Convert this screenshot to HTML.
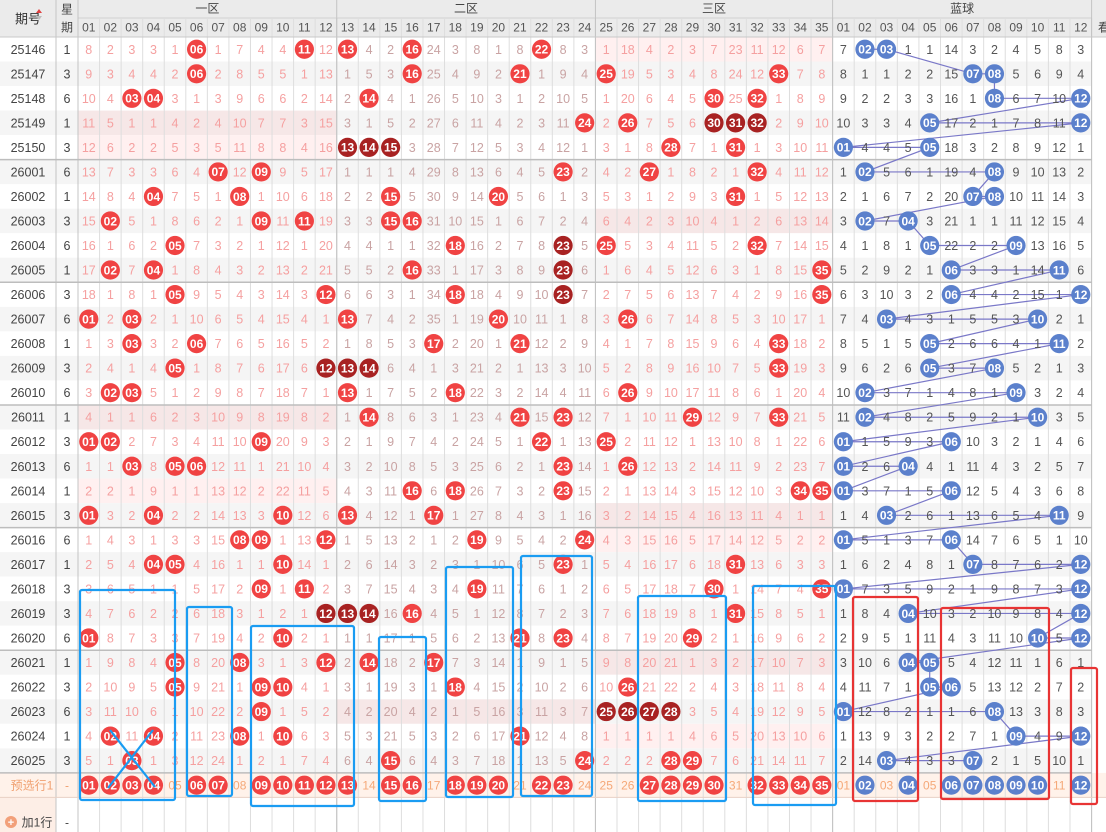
<!DOCTYPE html>
<html><head><meta charset="utf-8">
<style>
html,body{margin:0;padding:0;background:#fff;}
#wrap{position:relative;width:1106px;height:832px;overflow:hidden;font-family:"Liberation Sans","Noto Sans CJK SC",sans-serif;}
svg text{font-family:"Liberation Sans","Noto Sans CJK SC",sans-serif;}
</style></head>
<body>
<div id="wrap">
<svg id="chart" width="1106" height="832" xmlns="http://www.w3.org/2000/svg"></svg>
</div>
<script>
const periods=["25146","25147","25148","25149","25150","26001","26002","26003","26004","26005","26006","26007","26008","26009","26010","26011","26012","26013","26014","26015","26016","26017","26018","26019","26020","26021","26022","26023","26024","26025"];
const weekdays=[1,3,6,1,3,6,1,3,6,1,3,6,1,3,6,1,3,6,1,3,6,1,3,3,6,1,3,6,1,3];
const redHits=[[6,11,13,16,22],[6,16,21,25,33],[3,4,14,30,32],[24,26,30,31,32],[13,14,15,28,31],
[7,9,23,27,32],[4,8,15,20,31],[2,9,11,15,16],[5,18,23,25,32],[2,4,16,23,35],
[5,12,18,23,35],[1,3,13,20,26],[3,6,17,21,33],[5,12,13,14,33],[2,3,13,18,26],
[14,21,23,29,33],[1,2,9,22,25],[3,5,6,23,26],[16,18,23,34,35],[1,4,10,13,17],
[8,9,12,19,24],[4,5,10,23,31],[9,11,19,30,35],[12,13,14,16,31],[1,10,21,23,29],
[5,8,12,14,17],[5,9,10,18,26],[9,25,26,27,28],[2,4,8,10,21],[3,15,24,28,29]];
const blueHits=[[2,3],[7,8],[8,12],[5,12],[1,5],[2,8],[7,8],[2,4],[5,9],[6,11],[6,12],[3,10],[5,11],[5,8],[2,9],[2,10],[1,6],[1,4],[1,6],[3,11],[1,6],[7,12],[1,12],[4,12],[10,12],[4,5],[5,6],[1,8],[9,12],[3,7]];
const redInit=[8,2,3,3,1,0,1,7,4,4,0,12,0,4,2,0,24,3,8,1,8,0,8,3,1,18,4,2,3,7,23,11,12,6,7];
const blueInit=[7,0,0,1,1,14,3,2,4,5,8,3];
const darkCells=[[3,30],[3,31],[3,32],[4,13],[4,14],[4,15],[8,23],[9,23],[10,23],[13,12],[13,13],[13,14],[23,12],[23,13],[23,14],[27,25],[27,26],[27,27],[27,28]];
const preRed=[1,2,3,4,6,7,9,10,11,12,13,15,16,18,19,20,22,23,27,28,29,30,32,33,34,35];
const preBlue=[2,4,6,7,8,9,10,12];
const zoneLabels=["一区","二区","三区","蓝球"];

const NS="http://www.w3.org/2000/svg";
const svg=document.getElementById('chart');
const X0=78, CW=21.56, BX0=832.6, BW=21.58, Y0=37, RH=24.53;
const rx=n=>X0+(n-1)*CW+CW/2;
const bx=n=>BX0+(n-1)*BW+BW/2;
const ry=r=>Y0+r*RH+RH/2;
function el(tag,attrs,parent){const e=document.createElementNS(NS,tag);for(const k in attrs)e.setAttribute(k,attrs[k]);(parent||svg).appendChild(e);return e;}
function txt(x,y,s,fill,size,weight,parent){const t=el('text',{x:x,y:y+size*0.36,'text-anchor':'middle','font-size':size,fill:fill,'font-weight':weight||'normal'},parent);t.textContent=s;return t;}
const pad=n=>(n<10?'0':'')+n;
const N=periods.length;

// header
const hdr=el('g',{});


el('rect',{x:0,y:0,width:1106,height:Y0,fill:'#ebebeb'},hdr);
el('line',{x1:78,y1:18,x2:1092,y2:18,stroke:'#d2d2d2'},hdr);
const t1=txt(28,19,'期号','#333',13,'normal',hdr);


el('path',{d:'M36 13 l3 -4 l3 4 z',fill:'#e04040',transform:'translate(0,0)'},hdr);
el('path',{d:'M36 16 l3 4 l3 -4 z',fill:'#bbb'},hdr);
txt(67,9,'星','#444',12,'normal',hdr);
txt(67,27,'期','#444',12,'normal',hdr);
const zx=[[78,336.7],[336.7,595.4],[595.4,832.6],[832.6,1091.6]];
zoneLabels.forEach((z,i)=>{const t=txt((zx[i][0]+zx[i][1])/2,8,z,'#444',12,'normal',hdr);

});
txt(1104,27,'看','#444',12,'normal',hdr);
for(let n=1;n<=35;n++){txt(rx(n),27,pad(n),'#555',12,'normal',hdr);}
for(let n=1;n<=12;n++){txt(bx(n),27,pad(n),'#555',12,'normal',hdr);}

// rows background
const zoneRange=[[1,12],[13,24],[25,35]];
for(let r=0;r<N;r++){
  const y=Y0+r*RH;
  const bg=el('rect',{x:0,y:y,width:1092,height:RH,fill:r%2?'#f5f5f5':'#fff'});
  
  
  zoneRange.forEach(([a,b])=>{
    if(!redHits[r].some(h=>h>=a&&h<=b)){
      el('rect',{x:X0+(a-1)*CW,y:y,width:(b-a+1)*CW,height:RH,fill:'rgba(255,170,170,0.18)'});
    }
  });
}
// preselect row bg
const pry=Y0+N*RH;
const prb=el('rect',{x:0,y:pry,width:1106,height:RH,fill:'#fff2ea'});


el('rect',{x:0,y:pry+RH,width:56,height:832-pry-RH,fill:'#fdeee6'});
// grid lines
for(let n=0;n<=35;n++){const x=X0+n*CW;el('line',{x1:x,y1:18,x2:x,y2:832,stroke:(n%12==0||n==35||n==24)?'#c4c4c4':'#dedede'});}
for(let n=1;n<=12;n++){const x=BX0+n*BW;el('line',{x1:x,y1:18,x2:x,y2:832,stroke:n==12?'#c4c4c4':'#dedede'});}
el('line',{x1:X0+12*CW,y1:0,x2:X0+12*CW,y2:832,stroke:'#c4c4c4'});
el('line',{x1:X0+24*CW,y1:0,x2:X0+24*CW,y2:832,stroke:'#c4c4c4'});
el('line',{x1:BX0,y1:0,x2:BX0,y2:832,stroke:'#c4c4c4'});
el('line',{x1:1091.6,y1:0,x2:1091.6,y2:832,stroke:'#c4c4c4'});
el('line',{x1:56,y1:0,x2:56,y2:832,stroke:'#c4c4c4'});
el('line',{x1:78,y1:0,x2:78,y2:832,stroke:'#c4c4c4'});
el('line',{x1:0,y1:Y0,x2:1106,y2:Y0,stroke:'#c8c8c8'});
for(let r=5;r<=N;r+=5){const y=Y0+r*RH;el('line',{x1:0,y1:y,x2:1092,y2:y,stroke:'#bdbdbd','stroke-width':1.5});}
el('line',{x1:0,y1:pry+RH,x2:1106,y2:pry+RH,stroke:'#e8d0c4'});

// period & weekday
for(let r=0;r<N;r++){
  const p=txt(28,ry(r),periods[r],'#444',12.5);
  
  
  txt(67,ry(r),String(weekdays[r]),'#444',12.5);
}
txt(32,ry(N),'预选行1','#f0a070',12);
txt(67,ry(N),'-','#f0a070',12);
el('circle',{cx:11,cy:822,r:6,fill:'#f2a07a'});
txt(11,822,'+','#fff',11,'bold');
const add=txt(37,822,'加1行','#444',12);


txt(67,822,'-','#444',12);

// blue polyline
const pts=[];
for(let r=0;r<N;r++)blueHits[r].forEach(b=>pts.push(bx(b)+','+ry(r)));
const pl=el('polyline',{points:pts.join(' '),fill:'none',stroke:'#7a78c8','stroke-width':1.2});



// red cells
const isDark=(r,n)=>darkCells.some(d=>d[0]==r&&d[1]==n);
for(let n=1;n<=35;n++){
  let miss=0;
  const zc=(n>=13&&n<=24)?'#c9a3a3':'#f5a0a0';
  for(let r=0;r<N;r++){
    const hit=redHits[r].includes(n);
    if(r==0)miss=redInit[n-1];else miss=redHits[r-1].includes(n)?1:miss+1;
    if(hit){
      const c=el('circle',{cx:rx(n),cy:ry(r),r:9.6,fill:isDark(r,n)?'#a82222':'#f04343'});
      
      
      txt(rx(n),ry(r),pad(n),'#fff',12,'bold');
    }else{
      txt(rx(n),ry(r),String(miss),zc,12.5);
    }
  }
  if(preRed.includes(n)){
    const c=el('circle',{cx:rx(n),cy:ry(N),r:9.6,fill:'#f04343'});
    
    
    txt(rx(n),ry(N),pad(n),'#fff',12,'bold');
  }else txt(rx(n),ry(N),pad(n),'#f5a878',12);
}
// blue cells
for(let n=1;n<=12;n++){
  let miss=0;
  for(let r=0;r<N;r++){
    const hit=blueHits[r].includes(n);
    if(r==0)miss=blueInit[n-1];else miss=blueHits[r-1].includes(n)?1:miss+1;
    if(!hit)txt(bx(n),ry(r),String(miss),'#555',12.5);
  }
}
for(let n=1;n<=12;n++){
  for(let r=0;r<N;r++){
    if(blueHits[r].includes(n)){
      const c=el('circle',{cx:bx(n),cy:ry(r),r:9.6,fill:'#5b80cc'});
      
      
      txt(bx(n),ry(r),pad(n),'#fff',12,'bold');
    }
  }
  if(preBlue.includes(n)){
    const c=el('circle',{cx:bx(n),cy:ry(N),r:9.6,fill:'#5b80cc'});
    
    
    txt(bx(n),ry(N),pad(n),'#fff',12,'bold');
  }else txt(bx(n),ry(N),pad(n),'#f5a878',12);
}

// selection boxes (annotations)
function box(x1,y1,x2,y2,color,name){
  const b=el('rect',{x:x1,y:y1,width:x2-x1,height:y2-y1,rx:2,fill:'none',stroke:color,'stroke-width':2.2});
  
  
}
const BL='#1a9cf2', RD='#e83434';
box(80,590,175,800,BL,'box-red-01-05');
box(187,607,232,796,BL,'box-red-06-07');
box(251,626,354,806,BL,'box-red-09-13');
box(379,637,426,801,BL,'box-red-15-16');
box(446,567,513,797,BL,'box-red-18-20');
box(521,556,592,796,BL,'box-red-22-24');
box(638,596,726,801,BL,'box-red-27-30');
box(753,586,836,805,BL,'box-red-32-35');
box(853,597,918,801,RD,'box-blue-02-04');
box(941,608,1049,799,RD,'box-blue-06-10');
box(1071,668,1097,804,RD,'box-blue-12');
const x1=el('line',{x1:110,y1:730,x2:155,y2:787,stroke:BL,'stroke-width':2.2});


el('line',{x1:153,y1:730,x2:108,y2:788,stroke:BL,'stroke-width':2.2});
</script>
</body></html>
